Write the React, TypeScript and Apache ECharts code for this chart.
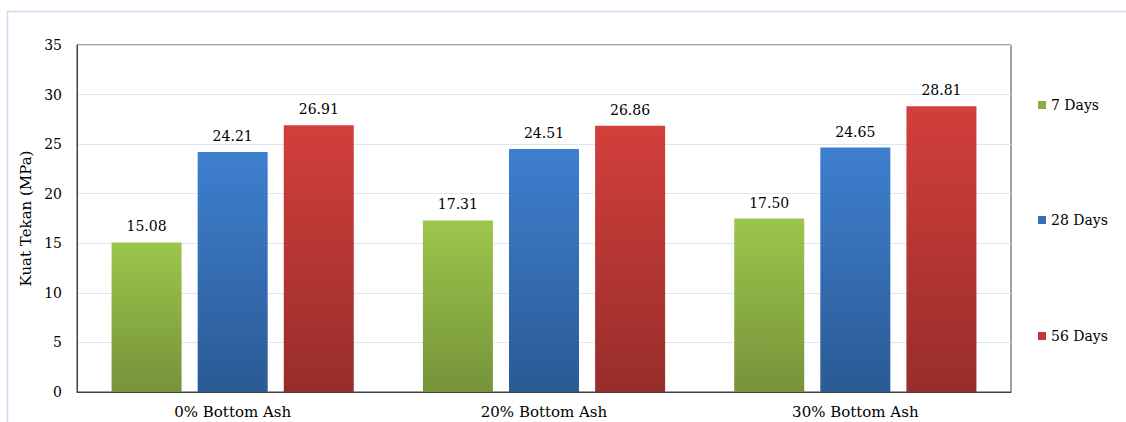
import React, { useEffect, useRef } from "react";
import * as echarts from "echarts";

const categories = ["0% Bottom Ash", "20% Bottom Ash", "30% Bottom Ash"];
const days7 = [15.08, 17.31, 17.5];
const days28 = [24.21, 24.51, 24.65];
const days56 = [26.91, 26.86, 28.81];
const seriesNames = ["7 Days", "28 Days", "56 Days"];
const yTicks = { min: 0, max: 35, interval: 5 };

const FONT = "DejaVu Serif";

function grad(top: string, bottom: string) {
  return new echarts.graphic.LinearGradient(0, 0, 0, 1, [
    { offset: 0, color: top },
    { offset: 1, color: bottom },
  ]);
}

export default function App() {
  const ref = useRef<HTMLDivElement>(null);
  useEffect(() => {
    if (!ref.current) return;
    const chart = echarts.init(ref.current, null, { renderer: "svg" });
    const colors = [
      grad("#9cc64b", "#76933a"),
      grad("#3e7fcf", "#2b5a94"),
      grad("#d33f3b", "#972d2a"),
    ];
    const legendColors = ["#8db044", "#3670b8", "#c0393a"];
    const datas = [days7, days28, days56];
    const legendTops = [92, 207, 323];
    const txt = { fontFamily: FONT, fontSize: 14, color: "#000" };
    chart.setOption({
      animation: false,
      textStyle: { fontFamily: FONT },
      graphic: [
        {
          type: "rect",
          shape: { x: 7.5, y: 11.5, width: 1200, height: 500 },
          style: { fill: "none", stroke: "#c9dcf2", lineWidth: 1.5 },
          silent: true,
          z: -1,
        },
      ],
      grid: {
        left: 77,
        right: 115,
        top: 45,
        bottom: 30,
        show: true,
        borderColor: "#404040",
        borderWidth: 1,
        backgroundColor: "transparent",
      },
      legend: seriesNames.map((n, i) => ({
        data: [{ name: n, itemStyle: { color: legendColors[i] } }],
        orient: "vertical",
        left: 1033,
        top: legendTops[i],
        icon: "rect",
        itemWidth: 8,
        itemHeight: 8,
        itemGap: 4,
        textStyle: { ...txt, lineHeight: 16 },
        selectedMode: false,
      })),
      xAxis: {
        type: "category",
        data: categories,
        axisLine: { show: true, lineStyle: { color: "#404040", width: 1 } },
        axisTick: { show: false },
        axisLabel: { ...txt, fontSize: 15, margin: 12 },
      },
      yAxis: {
        type: "value",
        min: yTicks.min,
        max: yTicks.max,
        interval: yTicks.interval,
        name: "Kuat Tekan (MPa)",
        nameLocation: "middle",
        nameGap: 44,
        nameRotate: 90,
        nameTextStyle: { ...txt, fontSize: 15 },
        axisLine: { show: true, lineStyle: { color: "#404040", width: 1 } },
        axisTick: { show: false },
        axisLabel: { ...txt, margin: 15 },
        splitLine: { show: true, lineStyle: { color: "#dce6f4", width: 1 } },
      },
      series: seriesNames.map((n, i) => ({
        name: n,
        type: "bar",
        data: datas[i],
        barWidth: 70,
        barGap: "23%",
        itemStyle: { color: colors[i] },
        label: {
          show: true,
          position: "top",
          distance: 9,
          ...txt,
          formatter: (p: any) => Number(p.value).toFixed(2),
        },
      })),
    });
    return () => chart.dispose();
  }, []);
  return (
    <div
      ref={ref}
      style={{ position: "absolute", left: 0, top: 0, width: 1126, height: 422, background: "#fff" }}
    />
  );
}
